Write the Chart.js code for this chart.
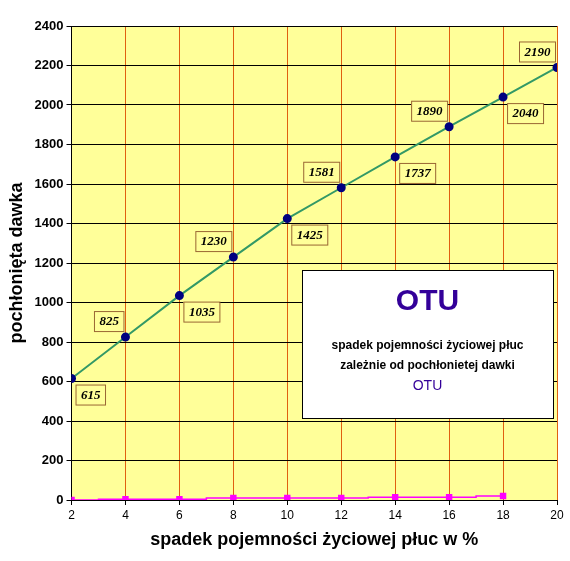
<!DOCTYPE html><html><head><script src="https://cdn.jsdelivr.net/npm/chart.js@4"></script>
<style>body{margin:0;background:#fff}#w{width:570px;height:561px}</style></head><body><div id="w"><canvas id="c"></canvas></div>
<script>
const categories=[2,4,6,8,10,12,14,16,18,20];
const dose=[615,825,1035,1230,1425,1581,1737,1890,2040,2190];
const small=[0,4,4,10,10,10,14,14,20,null];
const yTicks=[0,200,400,600,800,1000,1200,1400,1600,1800,2000,2200,2400];
const bg={id:'bg',beforeDraw(c){const a=c.chartArea,x=c.ctx;x.save();x.fillStyle='#ffff99';x.fillRect(a.left,a.top,a.right-a.left,a.bottom-a.top);x.restore();}};
const lab={id:'lab',afterDraw(c){const x=c.ctx,m=c.getDatasetMeta(0);x.save();x.font='bold italic 13px "Liberation Serif"';
m.data.forEach((p,i)=>{const t=String(dose[i]);const w=x.measureText(t).width+10,h=20;const below=i%2==0;
let bx=below?p.x+4:p.x-w-2,by=below?p.y+6:p.y-h-6; if(bx+w>c.width-2)bx=c.width-w-2;
x.fillStyle='#ffff99';x.fillRect(bx,by,w,h);x.strokeStyle='#996633';x.lineWidth=1;x.strokeRect(bx+.5,by+.5,w,h);
x.fillStyle='#000';x.textAlign='center';x.textBaseline='middle';x.fillText(t,bx+w/2+.5,by+h/2+1);});
const L=302,T=270,W=251,H=148;x.fillStyle='#fff';x.fillRect(L,T,W,H);x.strokeStyle='#000';x.strokeRect(L+.5,T+.5,W,H);
x.textAlign='center';x.fillStyle='#330099';x.font='bold 30px "Liberation Sans"';x.fillText('OTU',L+W/2,T+32);
x.fillStyle='#000';x.font='bold 12px "Liberation Sans"';x.fillText('spadek pojemności życiowej płuc',L+W/2,T+76);x.fillText('zależnie od pochłonietej dawki',L+W/2,T+96);
x.fillStyle='#330099';x.font='14px "Liberation Sans"';x.fillText('OTU',L+W/2,T+116);x.restore();}};
new Chart(document.getElementById('c'),{type:'line',data:{labels:categories,datasets:[
{data:dose,borderColor:'#339966',borderWidth:2,pointBackgroundColor:'#000080',pointBorderColor:'#000080',pointRadius:3.5,tension:0},
{data:small,borderColor:'#ff00ff',borderWidth:1.5,pointBackgroundColor:'#ff00ff',pointBorderColor:'#ff00ff',pointStyle:'rect',pointRadius:3.5,stepped:'middle'}]},
options:{responsive:true,maintainAspectRatio:false,animation:false,layout:{padding:{top:26,right:13,left:2,bottom:6}},
plugins:{legend:{display:false},tooltip:{enabled:false}},
scales:{x:{type:'linear',min:2,max:20,afterBuildTicks(s){s.ticks=categories.map(v=>({value:v}));},
grid:{color:'#e06010',lineWidth:1,drawTicks:true,tickLength:5,tickColor:'#000'},border:{color:'#000'},ticks:{color:'#000',font:{size:12,family:'Liberation Sans'},callback:v=>String(v)},
title:{display:true,text:'spadek pojemności życiowej płuc w %',color:'#000',font:{size:18,weight:'bold',family:'Liberation Sans'}}},
y:{min:0,max:2400,afterBuildTicks(s){s.ticks=yTicks.map(v=>({value:v}));},grid:{color:'#000',tickLength:5},border:{color:'#000'},
ticks:{color:'#000',font:{size:13,weight:'bold',family:'Liberation Sans'},callback:v=>String(v)},
title:{display:true,text:'pochłonięta dawka',color:'#000',font:{size:18,weight:'bold',family:'Liberation Sans'}}}}},plugins:[bg,lab]});
</script></body></html>
